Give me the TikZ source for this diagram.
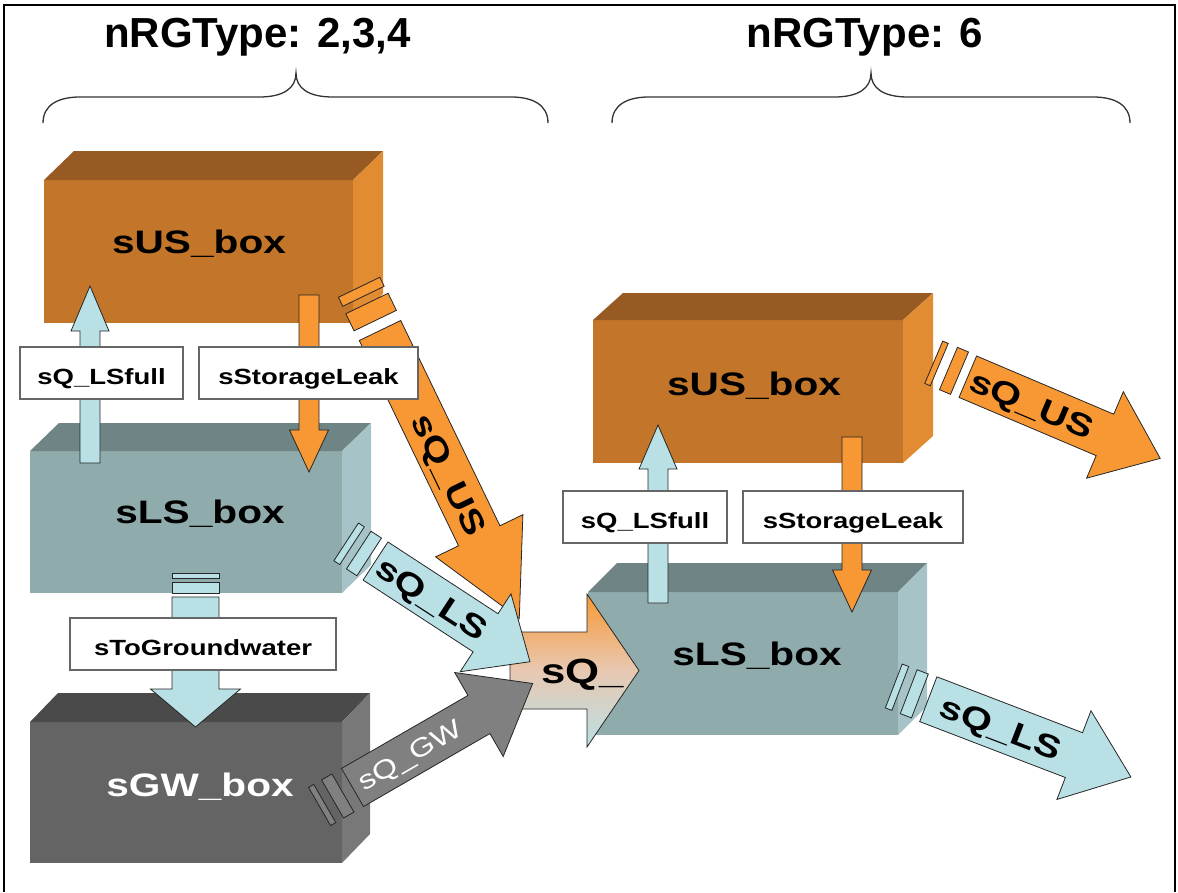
\documentclass[tikz,border=0pt]{standalone}
\usepackage{fontspec}
\setmainfont{Liberation Sans}
\newfontfamily\wide[FakeStretch=1.25]{Liberation Sans}

\definecolor{usfront}{RGB}{195,118,42}
\definecolor{ustop}{RGB}{150,90,34}
\definecolor{usside}{RGB}{225,139,50}
\definecolor{lsfront}{RGB}{143,171,172}
\definecolor{lstop}{RGB}{111,132,133}
\definecolor{lsside}{RGB}{166,196,199}
\definecolor{gwfront}{RGB}{100,100,100}
\definecolor{gwtop}{RGB}{74,74,74}
\definecolor{gwside}{RGB}{120,120,120}
\definecolor{flowor}{RGB}{248,152,52}
\definecolor{flowbl}{RGB}{185,224,228}
\definecolor{flowgr}{RGB}{128,128,128}
\definecolor{mergemid}{RGB}{232,200,178}

\tikzset{
  orflow/.style={fill=flowor, draw=black!85, line width=0.8pt},
  blflow/.style={fill=flowbl, draw=black!85, line width=0.8pt},
  grflow/.style={fill=flowgr, draw=black!85, line width=0.8pt},
  tag/.style={draw=black!60, line width=1.1pt, fill=white, minimum height=52pt,
    inner sep=0pt, font=\wide\bfseries\fontsize{22}{22}\selectfont,
    text height=22pt, text depth=0pt},
  boxtext/.style={anchor=base, inner sep=0pt,
    font=\wide\bfseries\fontsize{32.5}{33}\selectfont},
  flowtext/.style={inner sep=0pt, text height=23pt, text depth=0pt,
    font=\wide\bfseries\fontsize{32}{32}\selectfont},
  headtext/.style={anchor=base, inner sep=0pt,
    font=\bfseries\fontsize{42}{42}\selectfont},
  brace/.style={draw=black!80, line width=1.3pt},
}

% 3D storage box: front (x1,y1)-(x2,y2), depth (dx,dy), face colours
\newcommand\storebox[9]{%
  \fill[#7] (#1,#2) rectangle (#3,#4);
  \fill[#8] (#1,#2) -- (#1+#5,#2-#6) -- (#3+#5,#2-#6) -- (#3,#2) -- cycle;
  \fill[#9] (#3,#2) -- (#3+#5,#2-#6) -- (#3+#5,#4-#6) -- (#3,#4) -- cycle;
}
% block arrow along local x: length, shaft width, head width, head length, style
\newcommand\flowbody[5]{%
  \pgfmathsetmacro\fs{#2/2}%
  \pgfmathsetmacro\fh{#3/2}%
  \pgfmathsetmacro\fb{#1-#4}%
  \path[#5] (0,-\fs) -- (\fb,-\fs) -- (\fb,-\fh) -- (#1,0) -- (\fb,\fh)
    -- (\fb,\fs) -- (0,\fs) -- cycle;
}
% band in front of an arrow tail: from, to, width, style
\newcommand\flowband[4]{%
  \pgfmathsetmacro\fs{#3/2}%
  \path[#4] (#1,-\fs) rectangle (#2,\fs);
}

\begin{document}
\begin{tikzpicture}[x=1pt,y=-1pt]
\useasboundingbox (0,0) rectangle (1178,892);

% frame
\draw[line width=1.5pt] (4,892) -- (4,5) -- (1175,5) -- (1175,892);

% headings and braces
\node[headtext] (head1) at (257.5,47) {nRGType: 2,3,4};
\node[headtext] (head2) at (865,47) {nRGType: 6};
\draw[brace] (43,123) .. controls (43,105) and (58,97) .. (80,97) -- (259,97)
  .. controls (284,97) and (296,88) .. (296,73)
  .. controls (296,88) and (308,97) .. (333,97) -- (511,97)
  .. controls (533,97) and (548,105) .. (548,123);
\draw[brace] (612,123) .. controls (612,105) and (627,97) .. (649,97) -- (834,97)
  .. controls (859,97) and (871,88) .. (871,73)
  .. controls (871,88) and (883,97) .. (908,97) -- (1093,97)
  .. controls (1115,97) and (1130,105) .. (1130,123);

% storage boxes
\storebox{44}{180}{353}{323}{30}{29}{usfront}{ustop}{usside}
\node[boxtext] (usL) at (199,253) {sUS\_box};
\storebox{30}{451}{342}{593}{29}{28}{lsfront}{lstop}{lsside}
\node[boxtext] (lsL) at (200,523) {sLS\_box};
\storebox{30}{722}{342}{863}{28}{29}{gwfront}{gwtop}{gwside}
\node[boxtext, text=white] (gwL) at (200,796) {sGW\_box};
\storebox{593}{320}{903}{463}{30}{27}{usfront}{ustop}{usside}
\node[boxtext] (usR) at (754,395) {sUS\_box};
\storebox{588}{592}{898}{735}{29}{29}{lsfront}{lstop}{lsside}
\node[boxtext] (lsR) at (757,665) {sLS\_box};

% combined outflow
\draw[black!85, line width=0.8pt, top color=flowor, bottom color=flowbl,
  middle color=mergemid]
  (510,632) -- (587,632) -- (587,594) -- (639,670.5) -- (587,747)
  -- (587,709) -- (510,709) -- cycle;
\node[anchor=base west, inner sep=0pt,
  font=\wide\bfseries\fontsize{35}{35}\selectfont] (qsum) at (541,683) {sQ\_};

% sQ_US (left)
\begin{scope}[shift={(380,330.5)}, rotate=-64.2, transform shape]
  \flowband{-48}{-38}{46}{orflow}
  \flowband{-30}{-11}{47}{orflow}
  \flowbody{320}{46}{97}{92}{orflow}
  \node[flowtext] (qusL) at (160,0) {sQ\_US};
\end{scope}

% sQ_LS (left)
\begin{scope}[shift={(375.5,561)}, rotate=-33.1, transform shape]
  \flowband{-35}{-28}{45}{blflow}
  \flowband{-20}{-7.5}{45}{blflow}
  \flowbody{184.4}{45.5}{93}{53}{blflow}
  \node[flowtext] (qlsL) at (68,0) {sQ\_LS};
\end{scope}

% sQ_GW
\begin{scope}[shift={(352.5,787.5)}, rotate=30, transform shape]
  \flowband{-38}{-32}{44}{grflow}
  \flowband{-23}{-11}{44}{grflow}
  \flowbody{208}{44}{97}{62}{grflow}
  \node[inner sep=0pt, text height=19pt, text depth=0pt, text=white,
    font=\wide\fontsize{26}{26}\selectfont] (qgw) at (66,0) {sQ\_GW};
\end{scope}

% sQ_US (right)
\begin{scope}[shift={(967.8,376.7)}, rotate=-23, transform shape]
  \flowband{-37}{-31}{46}{orflow}
  \flowband{-21}{-9}{46}{orflow}
  \flowbody{209}{45}{94}{60}{orflow}
  \node[flowtext] (qusR) at (70,0) {sQ\_US};
\end{scope}

% sQ_LS (right)
\begin{scope}[shift={(928.3,699.2)}, rotate=-21, transform shape]
  \flowband{-37}{-30}{47}{blflow}
  \flowband{-21}{-9}{47}{blflow}
  \flowbody{217}{48}{95}{61}{blflow}
  \node[flowtext] (qlsR) at (78,0) {sQ\_LS};
\end{scope}

% vertical exchanges
\begin{scope}[shift={(90,463)}, rotate=90]
  \flowbody{177}{20}{38}{45}{blflow}
\end{scope}
\begin{scope}[shift={(309,295)}, rotate=-90]
  \flowbody{177}{20}{39}{42}{orflow}
\end{scope}
\begin{scope}[shift={(195.5,597)}, rotate=-90]
  \flowband{-23.7}{-18.7}{47}{blflow}
  \flowband{-14.3}{-3.7}{47}{blflow}
  \flowbody{130}{47}{90}{38}{blflow}
\end{scope}
\begin{scope}[shift={(658,603)}, rotate=90]
  \flowbody{178}{20}{38}{44}{blflow}
\end{scope}
\begin{scope}[shift={(852,437)}, rotate=-90]
  \flowbody{175}{20}{39}{42}{orflow}
\end{scope}

% flux labels
\node[tag, minimum width=163pt] (fullL) at (101.5,373) {sQ\_LSfull};
\node[tag, minimum width=219pt] (leakL) at (308.5,373) {sStorageLeak};
\node[tag, minimum width=266pt] (gwtag) at (203,644) {sToGroundwater};
\node[tag, minimum width=164pt] (fullR) at (645,517) {sQ\_LSfull};
\node[tag, minimum width=220pt] (leakR) at (853,517) {sStorageLeak};
\end{tikzpicture}
\end{document}
